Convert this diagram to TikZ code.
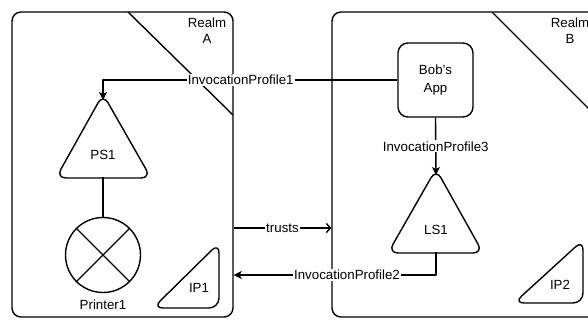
\documentclass[tikz,border=0pt]{standalone}
\usepackage{fontspec}
\setmainfont{Liberation Sans}
\usetikzlibrary{arrows.meta}
\begin{document}
\begin{tikzpicture}[x=1pt,y=-1pt,
  every node/.style={font=\fontsize{13.3}{16}\selectfont, inner sep=1pt},
  ln/.style={line width=1.4pt, line join=round},
  shp/.style={ln, rounded corners=10pt},
  realm/.style={draw, ln, rounded corners=9pt},
  lbl/.style={fill=white, inner sep=1pt},
  arr/.style={ln, -{Stealth[length=8pt,width=8pt,inset=2pt]}},
  oarr/.style={ln, -{Straight Barb[length=4pt,width=9pt,line width=1.4pt]}}
]
\useasboundingbox (0,0) rectangle (588,321);
\clip (0,0) rectangle (588,321);

% realms
\node[realm, minimum width=221pt, minimum height=305pt] (realmA) at (122.5,164.5) {};
\node[realm, minimum width=265pt, minimum height=305pt] (realmB) at (464.5,164.5) {};
\draw[ln] (128,12) -- (233,115);
\draw[ln] (492,12) -- (597,117);
\node[align=center, font=\fontsize{13.3}{16}\selectfont] (rAlabel) at (207,31) {Realm\\A};
\node[align=center, font=\fontsize{13.3}{16}\selectfont] (rBlabel) at (570,31) {Realm\\B};

% Bob's App
\node[draw, ln, rounded corners=10pt, minimum width=75pt, minimum height=74pt, align=center,
      font=\fontsize{13.3}{18}\selectfont] (bob) at (435.5,80) {Bob's\\App};

% PS1 triangle
\draw[shp] (103,94) -- (151,178) -- (56,178) -- cycle;
\coordinate (ps1top) at (103,100);
\coordinate (ps1bot) at (103,177);
\node (ps1) at (103,155) {PS1};

% LS1 triangle
\draw[shp] (436,169) -- (483,253) -- (388,253) -- cycle;
\coordinate (ls1top) at (436,175);
\coordinate (ls1bot) at (436,252);
\node (ls1) at (436,230) {LS1};

% Printer1
\node[draw, ln, circle, minimum size=75pt, inner sep=0pt] (printer) at (103,255) {};
\draw[ln] (printer.north west) -- (printer.south east);
\draw[ln] (printer.north east) -- (printer.south west);
\node (printerlbl) at (103,305) {Printer1};

% IP1 / IP2
\draw[shp] (219,243) -- (219,308) -- (153,308) -- cycle;
\node (ip1) at (199,288) {IP1};
\draw[shp] (583,240) -- (583,303) -- (514,303) -- cycle;
\node (ip2) at (560,285) {IP2};

% connectors
\draw[ln] (ps1bot) -- (printer.north);
\draw[arr] (bob.west) -| (ps1top) node[lbl, pos=0.266] {InvocationProfile1};
\draw[arr] (bob.south) -- (ls1top) node[lbl, midway] {InvocationProfile3};
\draw[arr] (ls1bot) |- (realmA.east |- 0,275) node[lbl, pos=0.72] {InvocationProfile2};
\draw[oarr] (realmA.east |- 0,228) -- (realmB.west |- 0,228) node[lbl, midway] {trusts};
\end{tikzpicture}
\end{document}
